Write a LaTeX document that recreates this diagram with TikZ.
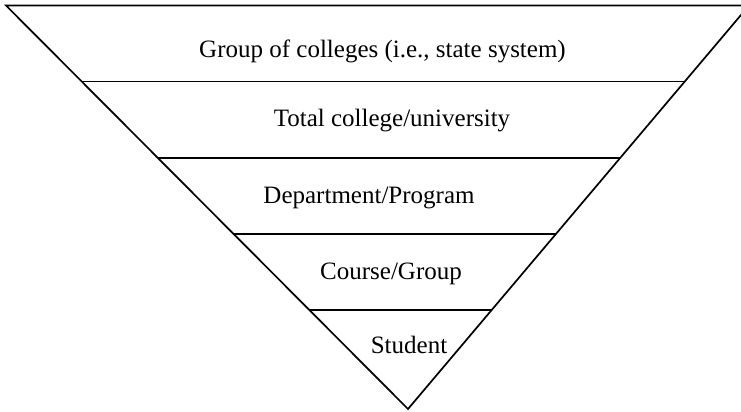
\documentclass[tikz,border=0pt]{standalone}
\usepackage{fontspec}
\setmainfont{Liberation Serif}
\usetikzlibrary{calc}
\begin{document}
\begin{tikzpicture}[x=1bp,y=-1bp,
  edge/.style={line width=1.7bp, black},
  level/.style={anchor=base, inner sep=0pt, font=\fontsize{25bp}{30bp}\selectfont}]
\useasboundingbox (0,0) rectangle (741,411);
\clip (0,0) rectangle (741,411);
% corners of the inverted triangle
\coordinate (TL) at (6,5.5);
\coordinate (TR) at (749,5.5);
\coordinate (A) at (408,409);
% outline
\draw[edge, line join=miter] (TR) -- (TL) -- (A) -- cycle;
% dividing lines between levels
\foreach \t/\n in {0.1885/1, 0.3775/2, 0.567/3, 0.755/4}{
  \coordinate (L\n) at ($(TL)!\t!(A)$);
  \coordinate (R\n) at ($(TR)!\t!(A)$);
  \draw[edge] (L\n) -- (R\n);
}
% level labels
\node[level] (group) at (382.5,57.3) {Group of colleges (i.e., state system)};
\node[level] (total) at (392,126.7) {Total college/university};
\node[level] (dept) at (369,203.3) {Department/Program};
\node[level] (course) at (391,279.3) {Course/Group};
\node[level] (student) at (409,353.3) {Student};
\end{tikzpicture}
\end{document}
